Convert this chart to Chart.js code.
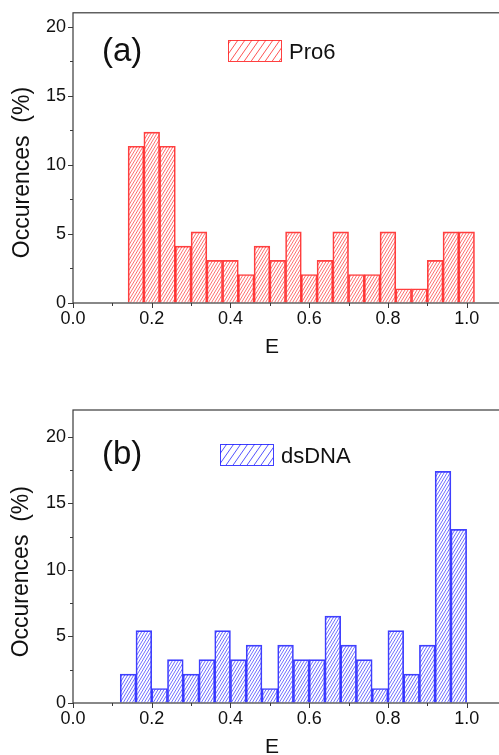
<!DOCTYPE html>
<html><head><meta charset="utf-8">
<script src="https://cdn.jsdelivr.net/npm/chart.js@4"></script>
<style>
html,body{margin:0;padding:0;background:#fff;overflow:hidden;width:499px;height:755px;}
.p{position:absolute;left:0;width:520px;}
</style></head>
<body>
<div class="p" style="top:0;height:378px"><canvas id="ca" width="520" height="378"></canvas></div>
<div class="p" style="top:378px;height:377px"><canvas id="cb" width="520" height="377"></canvas></div>
<script>
// ---- data ----
const binCentersA = [0.16,0.20,0.24,0.28,0.32,0.36,0.40,0.44,0.48,0.52,0.56,0.60,0.64,0.68,0.72,0.76,0.80,0.84,0.88,0.92,0.96,1.00];
const pro6Values  = [11.34,12.37,11.34,4.12,5.15,3.09,3.09,2.06,4.12,3.09,5.15,2.06,3.09,5.15,2.06,2.06,5.15,1.03,1.03,3.09,5.15,5.15];
const binCentersB = [0.14,0.18,0.22,0.26,0.30,0.34,0.38,0.42,0.46,0.50,0.54,0.58,0.62,0.66,0.70,0.74,0.78,0.82,0.86,0.90,0.94,0.98];
const dsDNAValues = [2.17,5.43,1.09,3.26,2.17,3.26,5.43,3.26,4.35,1.09,4.35,3.26,3.26,6.52,4.35,3.26,1.09,5.43,2.17,4.35,17.39,13.04];
const xTickValues = [0.0,0.2,0.4,0.6,0.8,1.0];
const xMinorTickValues = [0.1,0.3,0.5,0.7,0.9,1.1];
const yTickValues = [0,5,10,15,20];
const yMinorTickValues = [2.5,7.5,12.5,17.5];
const panelLabels = ['(a)','(b)'];
const seriesNames = ['Pro6','dsDNA'];
const xTitle = 'E';
const yTitle = 'Occurences  (%)';

const FONT = "'Liberation Sans', Arial, Helvetica, sans-serif";

function hatch(color, w, h){
  const c = document.createElement('canvas');
  c.width = w; c.height = h;
  const g = c.getContext('2d');
  g.strokeStyle = color; g.lineWidth = 1;
  g.beginPath();
  g.moveTo(0,h); g.lineTo(w,0);
  g.moveTo(-w,h); g.lineTo(0,0);
  g.moveTo(w,h); g.lineTo(2*w,0);
  g.stroke();
  return g.createPattern(c,'repeat');
}

function decoPlugin(o){
  return {
    id:'deco',
    afterDraw(chart){
      const ctx = chart.ctx, a = chart.chartArea;
      const xs = chart.scales.x, ys = chart.scales.y;
      ctx.save();
      // frame
      ctx.strokeStyle = '#3a3a3a'; ctx.lineWidth = 1.2;
      ctx.strokeRect(a.left, a.top, a.right - a.left, a.bottom - a.top);
      // ticks
      ctx.lineWidth = 1; ctx.strokeStyle = '#3a3a3a';
      ctx.beginPath();
      xTickValues.forEach(v=>{const p=Math.round(xs.getPixelForValue(v))+0.5; ctx.moveTo(p,a.bottom); ctx.lineTo(p,a.bottom+5);});
      xMinorTickValues.forEach(v=>{const p=Math.round(xs.getPixelForValue(v))+0.5; ctx.moveTo(p,a.bottom); ctx.lineTo(p,a.bottom+3);});
      yTickValues.forEach(v=>{const p=Math.round(ys.getPixelForValue(v))+0.5; ctx.moveTo(a.left,p); ctx.lineTo(a.left-5,p);});
      yMinorTickValues.forEach(v=>{const p=Math.round(ys.getPixelForValue(v))+0.5; ctx.moveTo(a.left,p); ctx.lineTo(a.left-3,p);});
      ctx.stroke();
      // panel label
      ctx.fillStyle = '#111';
      ctx.textAlign = 'left'; ctx.textBaseline = 'alphabetic';
      ctx.font = '33px ' + FONT;
      ctx.fillText(o.label, o.labelX, o.labelY);
      // legend
      ctx.fillStyle = o.legendPattern;
      ctx.fillRect(o.boxX, o.boxY, 53, 21);
      ctx.strokeStyle = o.edge; ctx.lineWidth = 1;
      ctx.strokeRect(o.boxX+0.5, o.boxY+0.5, 53, 21);
      ctx.fillStyle = '#111';
      ctx.font = '22px ' + FONT;
      ctx.fillText(o.legend, o.legX, o.legY);
      // x title
      ctx.textAlign = 'center';
      ctx.font = '21px ' + FONT;
      ctx.fillText(xTitle, 272, o.xTitleY);
      // y title
      ctx.translate(o.yTitleX, o.yTitleY);
      ctx.rotate(-Math.PI/2);
      ctx.textBaseline = 'middle';
      ctx.font = '23px ' + FONT;
      ctx.fillText(yTitle, 0, 0);
      ctx.restore();
    }
  };
}

function makeChart(id, o){
  const tickFont = {family: FONT, size: 18};
  new Chart(document.getElementById(id), {
    type: 'bar',
    data: {datasets: [{
      label: o.legend,
      data: o.x.map((x,i)=>({x: x, y: o.y[i]})),
      backgroundColor: hatch(o.hatchColor, 3, 5),
      borderColor: o.edge,
      borderWidth: 1,
      borderSkipped: 'start',
      barPercentage: 1,
      categoryPercentage: 1,
      grouped: false
    }]},
    options: {
      responsive: false, animation: false, devicePixelRatio: 1,
      layout: {padding: {top: o.top, right: 14, left: 0, bottom: 0}},
      plugins: {legend: {display: false}, tooltip: {enabled: false}},
      scales: {
        x: {
          type: 'linear', min: 0, max: 1.1, offset: false,
          afterBuildTicks: s => { s.ticks = xTickValues.map(v => ({value: v})); },
          afterFit: s => { s.height = o.xh; },
          grid: {offset: false, drawOnChartArea: false, color: 'rgba(0,0,0,0)', tickLength: 5},
          border: {display: false},
          ticks: {font: tickFont, color: '#111', padding: 0, maxRotation: 0, autoSkip: false,
                  callback: v => Number(v).toFixed(1)}
        },
        y: {
          min: 0, max: o.ymax,
          afterBuildTicks: s => { s.ticks = yTickValues.map(v => ({value: v})); },
          afterFit: s => { s.width = 73; },
          grid: {drawOnChartArea: false, color: 'rgba(0,0,0,0)', tickLength: 5},
          border: {display: false},
          ticks: {font: tickFont, color: '#111', padding: 2, callback: v => String(v)}
        }
      }
    },
    plugins: [decoPlugin(o)]
  });
}

makeChart('ca', {
  x: binCentersA, y: pro6Values, legend: seriesNames[0], label: panelLabels[0],
  hatchColor: 'rgba(255,50,50,0.7)', edge: 'rgba(255,30,30,0.85)',
  legendPattern: hatch('rgba(255,40,40,0.8)', 7, 10),
  top: 11, xh: 75, ymax: 21,
  labelX: 102, labelY: 61,
  boxX: 228, boxY: 40, legX: 289, legY: 58.5,
  xTitleY: 353, yTitleX: 22.5, yTitleY: 172.5
});
makeChart('cb', {
  x: binCentersB, y: dsDNAValues, legend: seriesNames[1], label: panelLabels[1],
  hatchColor: 'rgba(50,50,255,0.7)', edge: 'rgba(30,30,255,0.85)',
  legendPattern: hatch('rgba(40,40,255,0.8)', 7, 10),
  top: 32, xh: 52, ymax: 22,
  labelX: 102, labelY: 86,
  boxX: 220, boxY: 66, legX: 281, legY: 84.7,
  xTitleY: 375, yTitleX: 22, yTitleY: 193.7
});
</script>
</body></html>
